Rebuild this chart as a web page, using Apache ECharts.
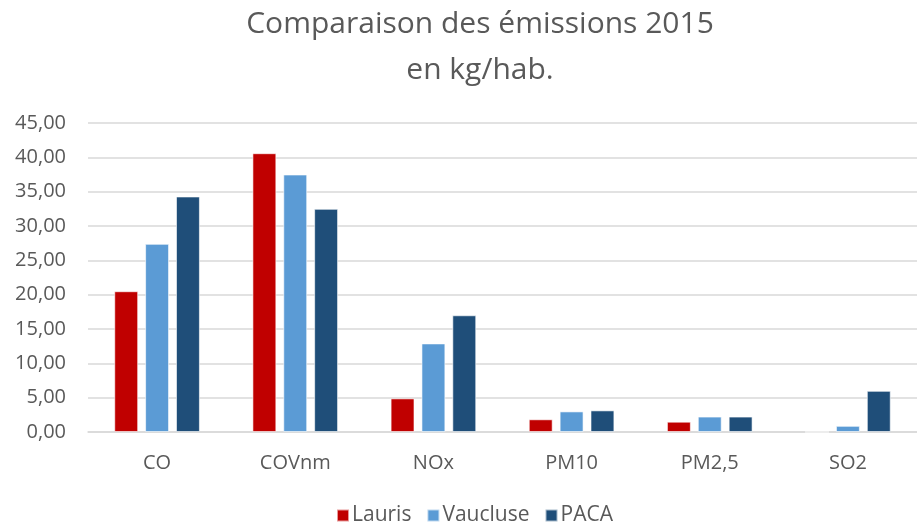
<!DOCTYPE html>
<html>
<head>
<meta charset="utf-8">
<script src="https://cdn.jsdelivr.net/npm/echarts@6/dist/echarts.min.js"></script>
<style>
  html, body { margin: 0; padding: 0; background: #fff; }
  #chart { width: 917px; height: 529px; }
</style>
</head>
<body>
<div id="chart"></div>
<script>
// Emissions per inhabitant in 2015, kg/hab.
const categories = ['CO', 'COVnm', 'NOx', 'PM10', 'PM2,5', 'SO2'];
const lauris   = [20.5, 40.6, 4.9, 1.85, 1.5, 0];
const vaucluse = [27.4, 37.5, 12.9, 3.0, 2.25, 0.9];
const paca     = [34.3, 32.5, 17.0, 3.15, 2.25, 6.0];
const yTicks = { min: 0, max: 45, interval: 5 };

const textColor = '#595959';
const font = '"Open Sans", "Noto Sans", sans-serif';

function barSeries(name, data, color) {
  return {
    name: name,
    type: 'bar',
    data: data,
    barGap: '29%',
    barCategoryGap: '38%',
    itemStyle: { color: color, borderColor: 'rgba(255,255,255,0.6)', borderWidth: 1 }
  };
}

const chart = echarts.init(document.getElementById('chart'), null, { renderer: 'canvas' });
chart.setOption({
  animation: false,
  backgroundColor: '#fff',
  title: {
    text: 'Comparaison des émissions 2015\nen kg/hab.',
    left: 475,
    textAlign: 'center',
    top: -4,
    textStyle: { fontFamily: font, fontSize: 30, fontWeight: 'normal', color: textColor, lineHeight: 46 }
  },
  legend: {
    bottom: -2,
    left: 331,
    itemWidth: 12,
    itemHeight: 12,
    itemGap: 15,
    icon: 'rect',
    textStyle: { fontFamily: font, fontSize: 21, color: textColor, padding: [0, 0, 0, -2] },
    data: ['Lauris', 'Vaucluse', 'PACA']
  },
  grid: { left: 88, right: 0, top: 123, bottom: 97, containLabel: false },
  xAxis: {
    type: 'category',
    data: categories,
    axisLine: { lineStyle: { color: '#d9d9d9', width: 1.5 } },
    axisTick: { show: false },
    axisLabel: { fontFamily: font, fontSize: 20, color: textColor, margin: 21 }
  },
  yAxis: {
    type: 'value',
    min: yTicks.min,
    max: yTicks.max,
    interval: yTicks.interval,
    axisLine: { show: false },
    axisTick: { show: false },
    splitLine: { lineStyle: { color: '#d9d9d9', width: 1.5 } },
    axisLabel: {
      fontFamily: font, fontSize: 20, color: textColor, margin: 22,
      formatter: v => v.toFixed(2).replace('.', ',')
    }
  },
  series: [
    barSeries('Lauris', lauris, '#c00000'),
    barSeries('Vaucluse', vaucluse, '#5b9bd5'),
    barSeries('PACA', paca, '#1f4e79')
  ]
});
</script>
</body>
</html>
